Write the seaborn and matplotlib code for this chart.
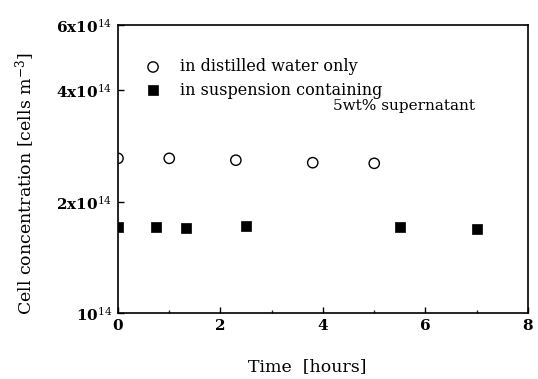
import matplotlib
matplotlib.use("Agg")
import matplotlib.pyplot as plt
import seaborn as sns
import pandas as pd
from matplotlib.ticker import FixedLocator, FixedFormatter, NullLocator, MultipleLocator

# Data
time_water = [0.0, 1.0, 2.3, 3.8, 5.0]
conc_water = [2.62e14, 2.62e14, 2.59e14, 2.55e14, 2.54e14]
time_susp = [0.0, 0.75, 1.33, 2.5, 5.5, 7.0]
conc_susp = [1.706e14, 1.706e14, 1.696e14, 1.717e14, 1.71e14, 1.69e14]

ytick_vals = [1e14, 2e14, 4e14, 6e14]
ytick_labels = [r"10$^{14}$", r"2x10$^{14}$", r"4x10$^{14}$", r"6x10$^{14}$"]
xtick_vals = [0, 2, 4, 6, 8]

sns.set_theme(style="ticks")
plt.rcParams['font.family'] = ['DejaVu Serif']
plt.rcParams['mathtext.fontset'] = 'dejavuserif'
plt.rcParams['text.color'] = 'black'
plt.rcParams['axes.labelcolor'] = 'black'

fig = plt.figure(figsize=(5.38, 3.79), dpi=100)
ax = fig.add_axes([0.2193, 0.1733, 0.9814 - 0.2193, 0.934 - 0.1733])

df_w = pd.DataFrame({"t": time_water, "c": conc_water})
df_s = pd.DataFrame({"t": time_susp, "c": conc_susp})

sns.scatterplot(data=df_w, x="t", y="c", ax=ax, marker="o", s=55,
                facecolor="none", edgecolor="black", linewidth=1.0,
                label="in distilled water only", zorder=3)
sns.scatterplot(data=df_s, x="t", y="c", ax=ax, marker="s", s=48,
                color="black", edgecolor="black", linewidth=0.5,
                label="in suspension containing", zorder=3)
for coll in ax.collections:
    coll.set_clip_on(True)
    coll.set_clip_path(ax.patch)

ax.set_yscale("log")
ax.set_ylim(1e14, 6e14)
ax.set_xlim(0, 8)
ax.yaxis.set_major_locator(FixedLocator(ytick_vals))
ax.yaxis.set_major_formatter(FixedFormatter(ytick_labels))
ax.yaxis.set_minor_locator(NullLocator())
ax.set_xticks(xtick_vals)
ax.xaxis.set_minor_locator(MultipleLocator(1))

ax.tick_params(axis="both", which="major", direction="in", length=4, width=1,
               labelsize=11, colors="black", pad=4)
ax.tick_params(axis="x", which="minor", direction="in", length=2.5, width=1)
for lab in ax.get_xticklabels() + ax.get_yticklabels():
    lab.set_fontweight("bold")

for sp in ax.spines.values():
    sp.set_linewidth(1.2)
    sp.set_color("black")
    sp.set_zorder(4)

ax.set_xlabel("Time  [hours]", fontsize=12.5)
ax.xaxis.set_label_coords(0.462, -0.155)
ax.set_ylabel(r"Cell concentration [cells m$^{-3}$]", fontsize=12.5)
ax.yaxis.set_label_coords(-0.197, 0.449)

leg = ax.legend(loc="upper left", bbox_to_anchor=(0.066, 0.885), frameon=False,
                fontsize=11.5, handletextpad=1.2, labelspacing=0.4,
                borderaxespad=0, borderpad=0, handlelength=1.0)
ax.text(0.524, 0.719, "5wt% supernatant", transform=ax.transAxes,
        fontsize=11, ha="left", va="center")

fig.savefig("out.png", dpi=100)
